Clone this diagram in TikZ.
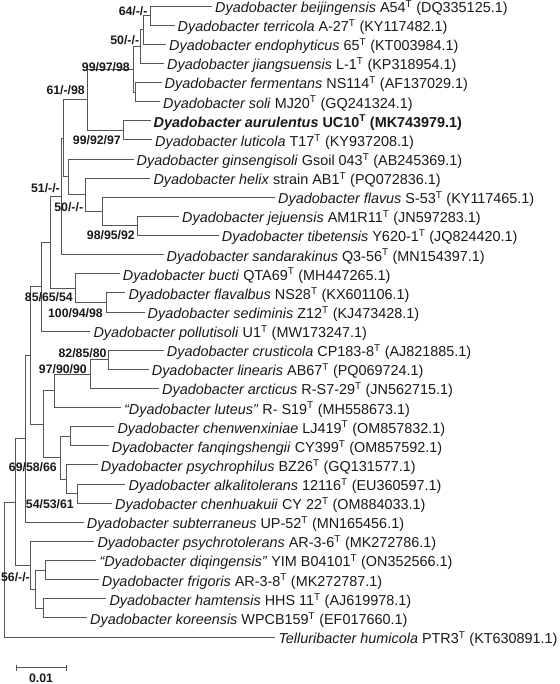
\documentclass[tikz,border=0pt]{standalone}
\usepackage{fontspec}
\setmainfont{Liberation Sans}
\newcommand{\supT}{\textsuperscript{T}}
\definecolor{lc}{RGB}{85,85,85}
\definecolor{tc}{RGB}{25,25,25}
\tikzset{
  br/.style={draw=lc, line width=0.8pt},
  leaf/.style={anchor=west, inner xsep=3pt, inner ysep=0pt, text height=13pt, text depth=0pt,
    font=\fontsize{14.4}{16}\selectfont, text=tc},
  bs/.style={anchor=east, inner sep=0pt, text height=8.8pt, text depth=0pt,
    font=\fontsize{12.3}{14}\selectfont\bfseries, text=tc},
}
\begin{document}
\begin{tikzpicture}[x=1pt,y=-1pt]
\useasboundingbox (0,0) rectangle (559,684);
\begin{scope}[y=-19.12pt, yshift=-6pt]
% leaves
\node[leaf] (l0) at (212,0) {\textit{Dyadobacter beijingensis} A54\supT{} (DQ335125.1)};
\node[leaf] (l1) at (174.5,1) {\textit{Dyadobacter terricola} A-27\supT{} (KY117482.1)};
\node[leaf] (l2) at (166,2) {\textit{Dyadobacter endophyticus} 65\supT{} (KT003984.1)};
\node[leaf] (l3) at (164,3) {\textit{Dyadobacter jiangsuensis} L-1\supT{} (KP318954.1)};
\node[leaf] (l4) at (161.5,4) {\textit{Dyadobacter fermentans} NS114\supT{} (AF137029.1)};
\node[leaf] (l5) at (160,5) {\textit{Dyadobacter soli} MJ20\supT{} (GQ241324.1)};
\node[leaf] (l6) at (150.5,6) {\bfseries\textit{Dyadobacter aurulentus} UC10\supT{} (MK743979.1)};
\node[leaf] (l7) at (152,7) {\textit{Dyadobacter luticola} T17\supT{} (KY937208.1)};
\node[leaf] (l8) at (133.5,8) {\textit{Dyadobacter ginsengisoli} Gsoil 043\supT{} (AB245369.1)};
\node[leaf] (l9) at (150.3,9) {\textit{Dyadobacter helix} strain AB1\supT{} (PQ072836.1)};
\node[leaf] (l10) at (275,10) {\textit{Dyadobacter flavus} S-53\supT{} (KY117465.1)};
\node[leaf] (l11) at (179,11) {\textit{Dyadobacter jejuensis} AM1R11\supT{} (JN597283.1)};
\node[leaf] (l12) at (218.7,12) {\textit{Dyadobacter tibetensis} Y620-1\supT{} (JQ824420.1)};
\node[leaf] (l13) at (163.5,13) {\textit{Dyadobacter sandarakinus} Q3-56\supT{} (MN154397.1)};
\node[leaf] (l14) at (119.7,14) {\textit{Dyadobacter bucti} QTA69\supT{} (MH447265.1)};
\node[leaf] (l15) at (125.3,15) {\textit{Dyadobacter flavalbus} NS28\supT{} (KX601106.1)};
\node[leaf] (l16) at (144.5,16) {\textit{Dyadobacter sediminis} Z12\supT{} (KJ473428.1)};
\node[leaf] (l17) at (90.3,17) {\textit{Dyadobacter pollutisoli} U1\supT{} (MW173247.1)};
\node[leaf] (l18) at (163.7,18) {\textit{Dyadobacter crusticola} CP183-8\supT{} (AJ821885.1)};
\node[leaf] (l19) at (148.7,19) {\textit{Dyadobacter linearis} AB67\supT{} (PQ069724.1)};
\node[leaf] (l20) at (159,20) {\textit{Dyadobacter arcticus} R-S7-29\supT{} (JN562715.1)};
\node[leaf] (l21) at (121,21) {\textit{“Dyadobacter luteus”} R- S19\supT{} (MH558673.1)};
\node[leaf] (l22) at (114.3,22) {\textit{Dyadobacter chenwenxiniae} LJ419\supT{} (OM857832.1)};
\node[leaf] (l23) at (108.7,23) {\textit{Dyadobacter fanqingshengii} CY399\supT{} (OM857592.1)};
\node[leaf] (l24) at (97.7,24) {\textit{Dyadobacter psychrophilus} BZ26\supT{} (GQ131577.1)};
\node[leaf] (l25) at (125.3,25) {\textit{Dyadobacter alkalitolerans} 12116\supT{} (EU360597.1)};
\node[leaf] (l26) at (112,26) {\textit{Dyadobacter chenhuakuii} CY 22\supT{} (OM884033.1)};
\node[leaf] (l27) at (83.7,27) {\textit{Dyadobacter subterraneus} UP-52\supT{} (MN165456.1)};
\node[leaf] (l28) at (94.3,28) {\textit{Dyadobacter psychrotolerans} AR-3-6\supT{} (MK272786.1)};
\node[leaf] (l29) at (96.3,29) {\textit{“Dyadobacter diqingensis”} YIM B04101\supT{} (ON352566.1)};
\node[leaf] (l30) at (98.7,30) {\textit{Dyadobacter frigoris} AR-3-8\supT{} (MK272787.1)};
\node[leaf] (l31) at (106.3,31) {\textit{Dyadobacter hamtensis} HHS 11\supT{} (AJ619978.1)};
\node[leaf] (l32) at (87,32) {\textit{Dyadobacter koreensis} WPCB159\supT{} (EF017660.1)};
\node[leaf] (l33) at (275.3,33) {\textit{Telluribacter humicola} PTR3\supT{} (KT630891.1)};
% internal nodes
\coordinate (nA) at (150.5,0.5);
\coordinate (nB) at (143.3,1.25);
\coordinate (nB2) at (140,2.125);
\coordinate (nD) at (135,4.5);
\coordinate (nC) at (133,3.3125);
\coordinate (nF) at (123.5,6.5);
\coordinate (nE) at (87,4.90625);
\coordinate (nJ) at (137.7,11.5);
\coordinate (nI) at (102.7,10.75);
\coordinate (nG) at (85,9.875);
\coordinate (nH) at (68.3,8.9375);
\coordinate (nL) at (63.5,6.921875);
\coordinate (nK) at (61.3,9.9609);
\coordinate (nO) at (106.7,15.5);
\coordinate (nM) at (75,14.75);
\coordinate (nP) at (50,12.355);
\coordinate (nQ) at (41.7,14.678);
\coordinate (nT) at (108.3,18.5);
\coordinate (nU) at (90,19.25);
\coordinate (nV) at (54.3,20.125);
\coordinate (nZ) at (70,22.5);
\coordinate (nAA) at (77.3,25.5);
\coordinate (nAB) at (66,24.75);
\coordinate (nAC) at (60.7,23.625);
\coordinate (nW) at (43.5,21.875);
\coordinate (nR) at (30,18.276);
\coordinate (nX) at (25,22.638);
\coordinate (nAE) at (45.7,29.5);
\coordinate (nAF) at (43.3,31.5);
\coordinate (nAD) at (35.7,30.5);
\coordinate (nAG) at (30.7,29.25);
\coordinate (nAH) at (15,25.944);
\coordinate (nRoot) at (4,29.47);
% branches
\draw[br] (nA) |- (l0.west) (nA) |- (l1.west);
\draw[br] (nB) |- (nA) (nB) |- (l2.west);
\draw[br] (nB2) |- (nB) (nB2) |- (l3.west);
\draw[br] (nD) |- (l4.west) (nD) |- (l5.west);
\draw[br] (nC) |- (nB2) (nC) |- (nD);
\draw[br] (nF) |- (l6.west) (nF) |- (l7.west);
\draw[br] (nE) |- (nC) (nE) |- (nF);
\draw[br] (nJ) |- (l11.west) (nJ) |- (l12.west);
\draw[br] (nI) |- (l10.west) (nI) |- (nJ);
\draw[br] (nG) |- (l9.west) (nG) |- (nI);
\draw[br] (nH) |- (l8.west) (nH) |- (nG);
\draw[br] (nL) |- (nE) (nL) |- (nH);
\draw[br] (nK) |- (nL) (nK) |- (l13.west);
\draw[br] (nO) |- (l15.west) (nO) |- (l16.west);
\draw[br] (nM) |- (l14.west) (nM) |- (nO);
\draw[br] (nP) |- (nK) (nP) |- (nM);
\draw[br] (nQ) |- (nP) (nQ) |- (l17.west);
\draw[br] (nT) |- (l18.west) (nT) |- (l19.west);
\draw[br] (nU) |- (nT) (nU) |- (l20.west);
\draw[br] (nV) |- (nU) (nV) |- (l21.west);
\draw[br] (nZ) |- (l22.west) (nZ) |- (l23.west);
\draw[br] (nAA) |- (l25.west) (nAA) |- (l26.west);
\draw[br] (nAB) |- (l24.west) (nAB) |- (nAA);
\draw[br] (nAC) |- (nZ) (nAC) |- (nAB);
\draw[br] (nW) |- (nV) (nW) |- (nAC);
\draw[br] (nR) |- (nQ) (nR) |- (nW);
\draw[br] (nX) |- (nR) (nX) |- (l27.west);
\draw[br] (nAE) |- (l29.west) (nAE) |- (l30.west);
\draw[br] (nAF) |- (l31.west) (nAF) |- (l32.west);
\draw[br] (nAD) |- (nAE) (nAD) |- (nAF);
\draw[br] (nAG) |- (l28.west) (nAG) |- (nAD);
\draw[br] (nAH) |- (nX) (nAH) |- (nAG);
\draw[br] (nRoot) |- (nAH) (nRoot) |- (l33.west);
\end{scope}
% bootstrap values
\node[bs] (b1) at (147.7,10.7) {64/-/-};
\node[bs] (b2) at (139.3,40) {50/-/-};
\node[bs] (b3) at (130,67) {99/97/98};
\node[bs] (b4) at (85,90) {61/-/98};
\node[bs] (b5) at (121,140) {99/92/97};
\node[bs] (b6) at (60,188) {51/-/-};
\node[bs] (b7) at (83.3,206.7) {50/-/-};
\node[bs] (b8) at (135,235) {98/95/92};
\node[bs] (b9) at (73,296.7) {85/65/54};
\node[bs] (b10) at (103,313) {100/94/98};
\node[bs] (b11) at (106.7,353.3) {82/85/80};
\node[bs] (b12) at (87,369) {97/90/90};
\node[bs] (b13) at (57,466.7) {69/58/66};
\node[bs] (b14) at (74,504) {54/53/61};
\node[bs] (b15) at (30,576.7) {56/-/-};
% scale bar
\coordinate (s1) at (16,667.5);
\coordinate (s2) at (66,667.5);
\draw[br] (s1) -- (s2);
\draw[br] ([yshift=3pt]s1) -- ([yshift=-3pt]s1);
\draw[br] ([yshift=3pt]s2) -- ([yshift=-3pt]s2);
\node[anchor=center, inner sep=0pt, text height=8.8pt, text depth=0pt,
  font=\fontsize{12.3}{14}\selectfont\bfseries, text=tc] (sl) at (41,678.5) {0.01};
\end{tikzpicture}
\end{document}
